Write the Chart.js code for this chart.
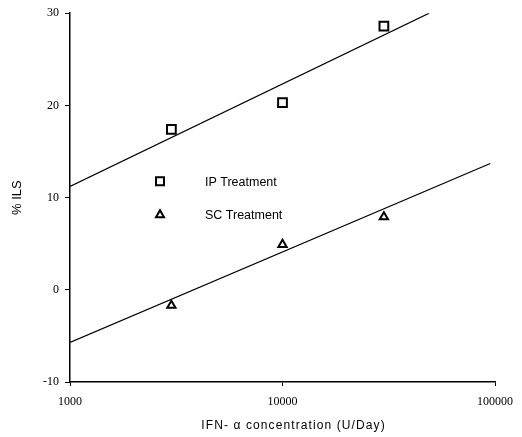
<!DOCTYPE html>
<html>
<head>
<meta charset="utf-8">
<script src="https://cdn.jsdelivr.net/npm/chart.js@4.4.1/dist/chart.umd.min.js"></script>
<style>
  html, body { margin: 0; padding: 0; background: #fff; }
  #wrap { width: 522px; height: 437px; }
</style>
</head>
<body>
<div id="wrap"><canvas id="myChart"></canvas></div>
<script>
// data
const doses = [3000, 10000, 30000];
const ipValues = [17.4, 20.3, 28.6];
const scValues = [-1.7, 4.9, 7.9];

// fitted regression lines (end points as drawn)
const ipFitX = [1000, 49000];
const ipFitY = [11.2, 30];
const scFitX = [1000, 95000];
const scFitY = [-5.7, 13.7];

const xTicks = [1000, 10000, 100000];
const yTicks = [-10, 0, 10, 20, 30];

const xTitle = 'IFN- α concentration (U/Day)';

function toPoints(xs, ys) {
  return xs.map((x, i) => ({ x: x, y: ys[i] }));
}

// little legend sitting inside the plot, like the original
const insideLegend = {
  id: 'insideLegend',
  afterDatasetsDraw(chart) {
    const ctx = chart.ctx;
    const area = chart.chartArea;
    const items = chart.data.datasets.filter(d => d.inLegend);
    ctx.save();
    items.forEach((d, i) => {
      const mx = area.left + 90;
      const my = area.top + 168 + i * 33;
      ctx.strokeStyle = '#000';
      ctx.lineWidth = 2;
      ctx.beginPath();
      if (d.pointStyle === 'rect') {
        ctx.rect(mx - 4, my - 4, 8, 8);
      } else {
        ctx.moveTo(mx, my - 4);
        ctx.lineTo(mx + 4, my + 3);
        ctx.lineTo(mx - 4, my + 3);
        ctx.closePath();
      }
      ctx.stroke();
      ctx.fillStyle = '#000';
      ctx.font = '12.5px "Liberation Sans", Arial, sans-serif';
      ctx.textBaseline = 'middle';
      ctx.fillText(d.label, area.left + 135, my + 1);
    });
    ctx.restore();
  }
};

// x title is letter-spaced in the scan, so it is drawn here
const spacedXTitle = {
  id: 'spacedXTitle',
  afterDraw(chart) {
    const ctx = chart.ctx;
    const area = chart.chartArea;
    ctx.save();
    ctx.fillStyle = '#000';
    ctx.font = '12px "Liberation Sans", Arial, sans-serif';
    ctx.letterSpacing = '1.1px';
    ctx.textAlign = 'center';
    ctx.textBaseline = 'middle';
    ctx.fillText(xTitle, (area.left + area.right) / 2 + 11, chart.scales.x.bottom - 11);
    ctx.restore();
  }
};

function initChart() {
  const ctx = document.getElementById('myChart');

  new Chart(ctx, {
    type: 'scatter',
    data: {
      datasets: [
        {
          label: 'IP Treatment',
          inLegend: true,
          data: toPoints(doses, ipValues),
          pointStyle: 'rect',
          pointRadius: 6.2,
          pointBorderWidth: 2,
          pointBackgroundColor: 'rgba(0,0,0,0)',
          borderColor: '#000',
          showLine: false
        },
        {
          label: 'SC Treatment',
          inLegend: true,
          data: toPoints(doses, scValues),
          pointStyle: 'triangle',
          pointRadius: 4.8,
          pointBorderWidth: 2,
          pointBackgroundColor: 'rgba(0,0,0,0)',
          borderColor: '#000',
          showLine: false
        },
        {
          label: 'IP fit',
          data: toPoints(ipFitX, ipFitY),
          showLine: true,
          pointRadius: 0,
          borderColor: '#000',
          borderWidth: 1.2
        },
        {
          label: 'SC fit',
          data: toPoints(scFitX, scFitY),
          showLine: true,
          pointRadius: 0,
          borderColor: '#000',
          borderWidth: 1.2
        }
      ]
    },
    options: {
      responsive: false,
      animation: false,
      layout: { padding: { top: 9, right: 25, left: 0, bottom: 0 } },
      plugins: {
        legend: { display: false },
        tooltip: { enabled: false }
      },
      scales: {
        x: {
          type: 'logarithmic',
          min: 1000,
          max: 100000,
          afterBuildTicks: (scale) => { scale.ticks = xTicks.map(v => ({ value: v })); },
          afterFit: (scale) => { scale.height = 55; },
          border: { display: true, color: '#000', width: 1.5 },
          grid: { drawOnChartArea: false, drawTicks: true, tickLength: 4, color: '#000' },
          ticks: {
            color: '#000',
            padding: 9,
            maxRotation: 0,
            font: { family: '"Liberation Serif", "Times New Roman", serif', size: 12 },
            callback: (v) => String(v)
          },
          title: { display: false }
        },
        y: {
          min: -10,
          max: 30,
          afterBuildTicks: (scale) => { scale.ticks = yTicks.map(v => ({ value: v })); },
          afterFit: (scale) => { scale.width = 70; },
          border: { display: true, color: '#000', width: 1.5 },
          grid: { drawOnChartArea: false, drawTicks: true, tickLength: 5, color: '#000' },
          ticks: {
            color: '#000',
            padding: 6,
            font: { family: '"Liberation Serif", "Times New Roman", serif', size: 12 }
          },
          title: {
            display: true,
            text: '% ILS',
            color: '#000',
            font: { family: '"Liberation Sans", Arial, sans-serif', size: 13 },
            padding: { top: 10, bottom: 0 }
          }
        }
      }
    },
    plugins: [insideLegend, spacedXTitle]
  });
}

document.addEventListener("DOMContentLoaded", () => {
  const c = document.getElementById('myChart');
  c.width = 522;
  c.height = 437;
  initChart();
});
</script>
</body>
</html>
